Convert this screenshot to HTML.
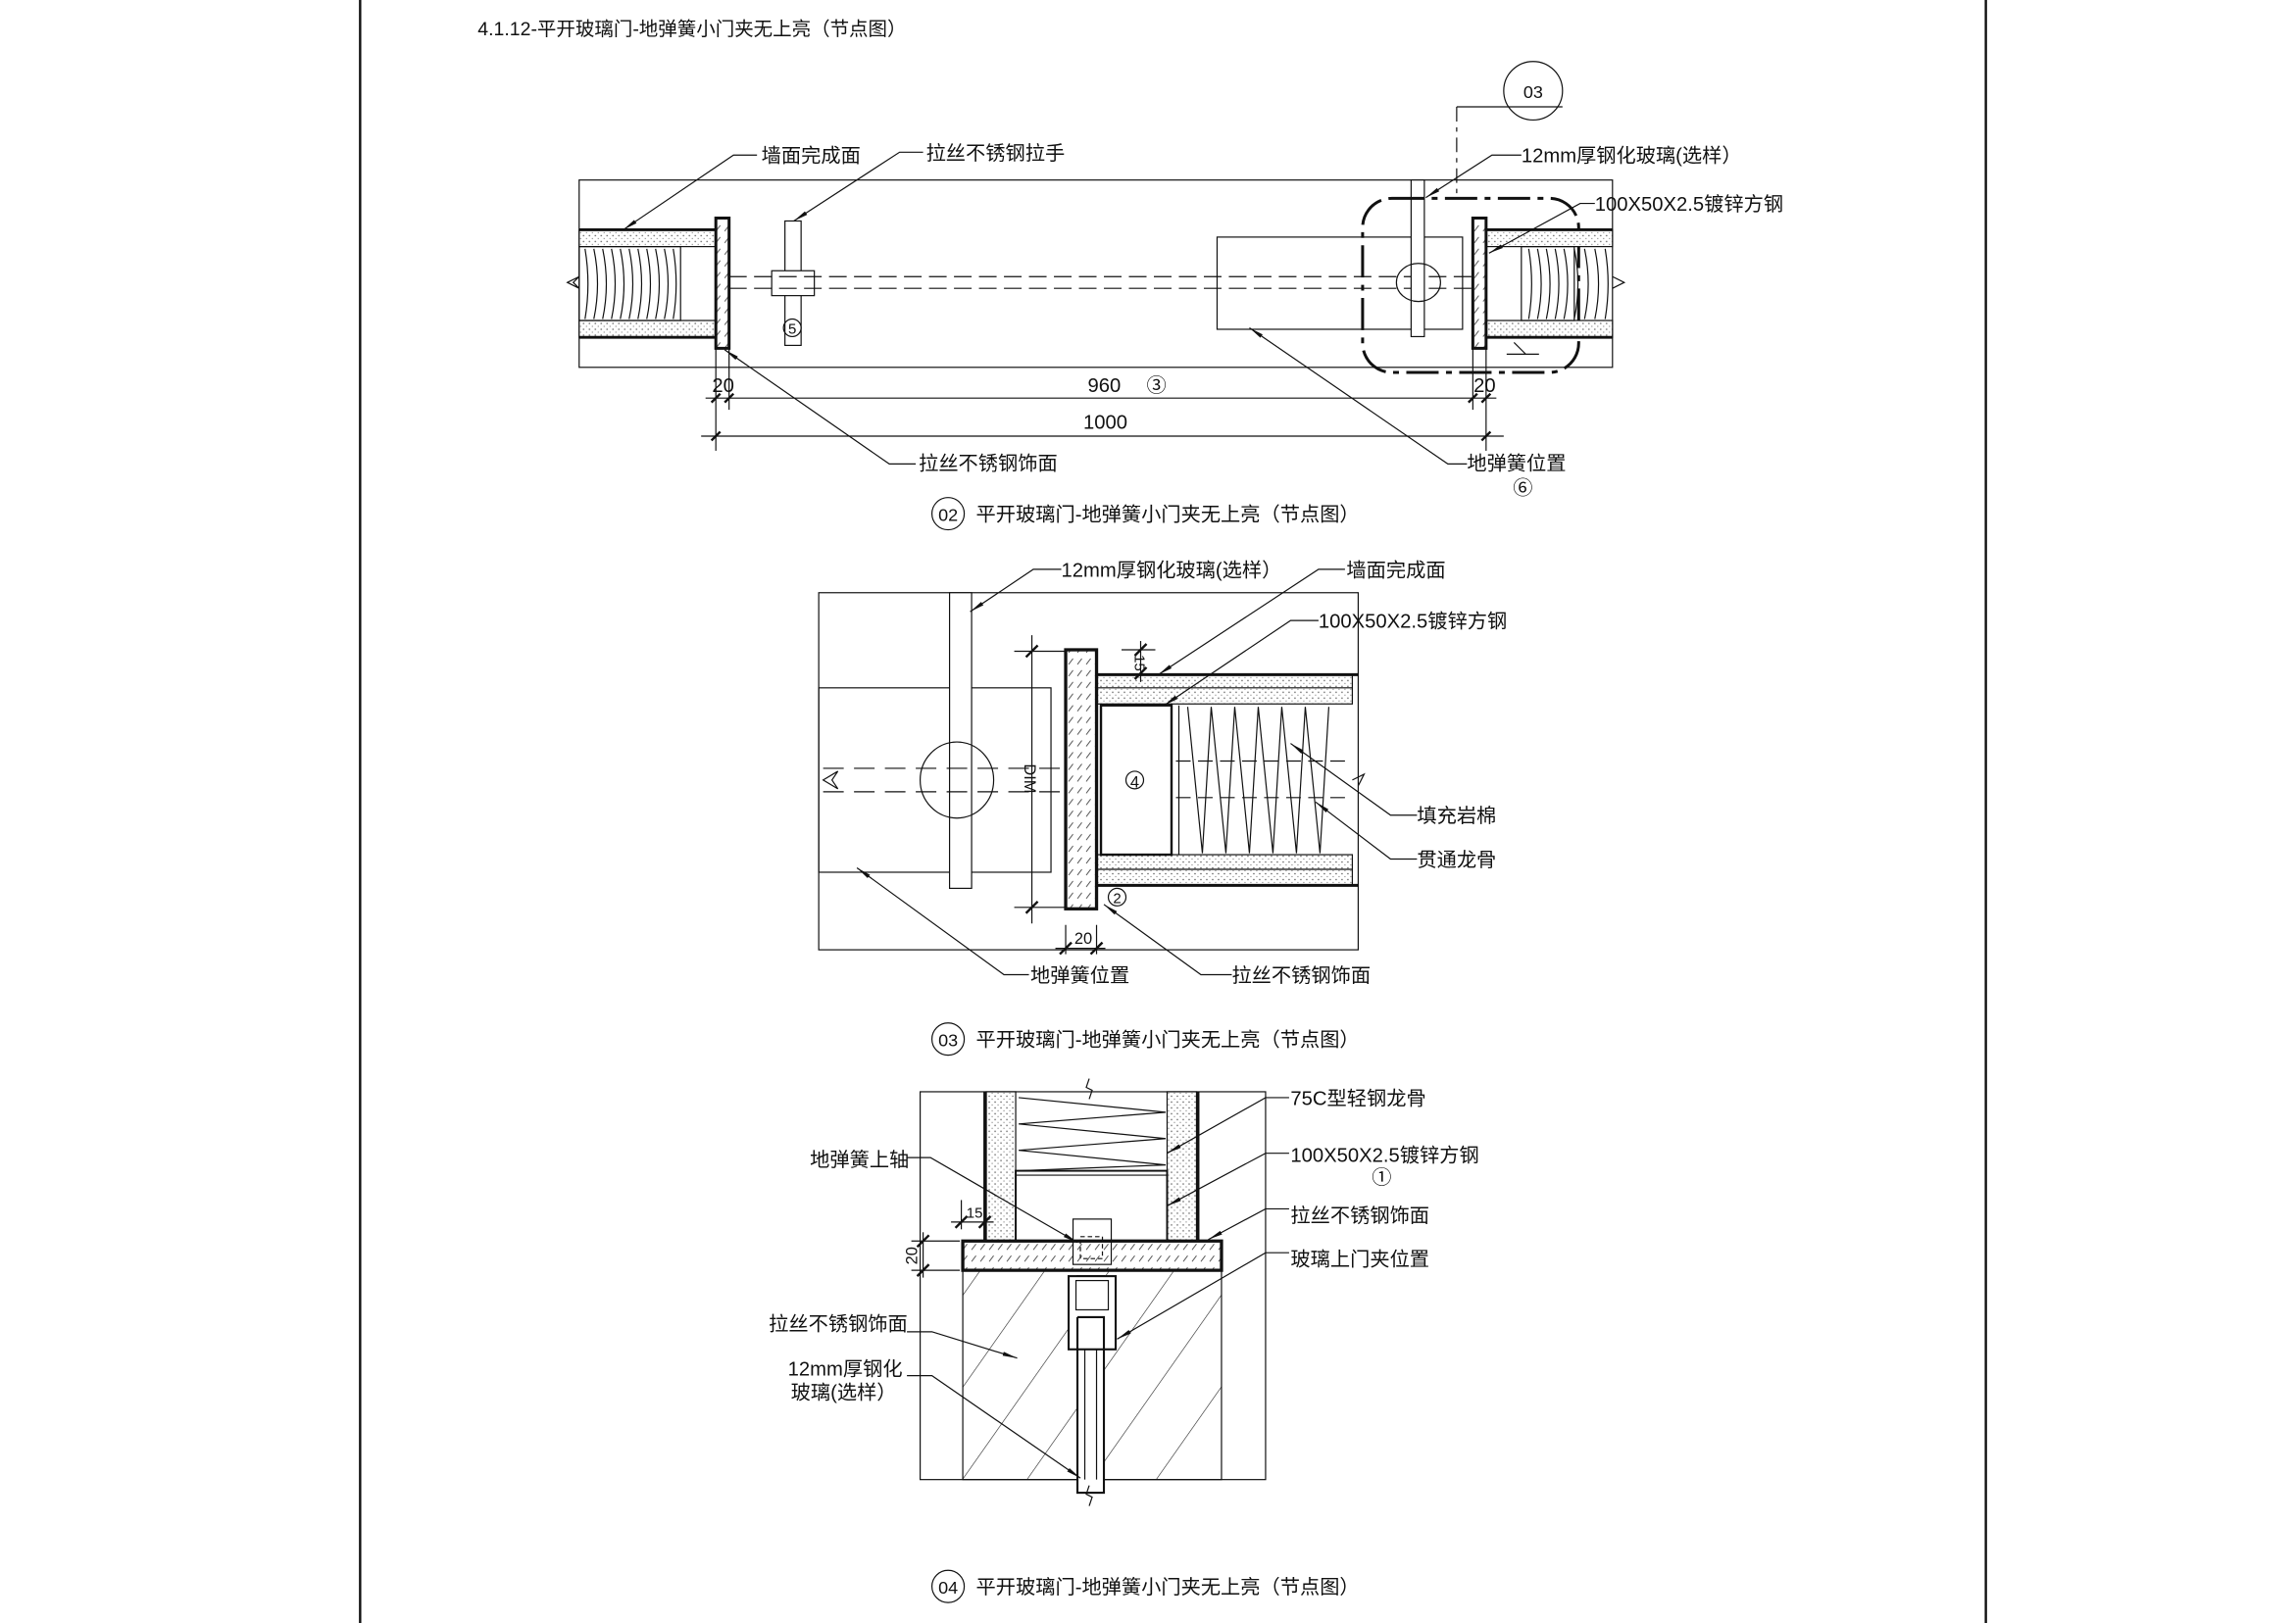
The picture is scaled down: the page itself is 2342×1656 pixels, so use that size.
<!DOCTYPE html>
<html><head><meta charset="utf-8"><style>
html,body{margin:0;padding:0;background:#fff;}
svg{display:block;}
text{font-family:"Liberation Sans","Noto Sans CJK SC",sans-serif;fill:#111;}
</style></head><body>
<svg width="2342" height="1656" viewBox="0 0 1562 1109" preserveAspectRatio="none" xmlns="http://www.w3.org/2000/svg">
<defs>
<pattern id="dots" width="4" height="4" patternUnits="userSpaceOnUse"><rect width="4" height="4" fill="#fff"/><circle cx="1" cy="1" r="0.5" fill="#555"/><circle cx="3" cy="3" r="0.4" fill="#777"/></pattern>
<pattern id="hatch" width="36" height="40" patternUnits="userSpaceOnUse" patternTransform="rotate(35)"><line x1="0" y1="0" x2="0" y2="40" stroke="#222" stroke-width="0.8"/></pattern>
<pattern id="plate" width="6" height="8" patternUnits="userSpaceOnUse"><rect width="6" height="8" fill="#fff"/><line x1="1" y1="6" x2="4" y2="2" stroke="#444" stroke-width="0.6"/></pattern>
<marker id="ar" markerWidth="10" markerHeight="4" refX="10" refY="2" orient="auto" markerUnits="userSpaceOnUse"><path d="M0,0.6 L10,2 L0,3.4z" fill="#111"/></marker>
</defs>
<g stroke="#111" fill="none" stroke-width="1">
<line x1="245" y1="0" x2="245" y2="1109" stroke-width="1.6"/>
<line x1="1351" y1="0" x2="1351" y2="1109" stroke-width="1.6"/>
</g>
<text x="325" y="24" font-size="13">4.1.12-平开玻璃门-地弹簧小门夹无上亮（节点图）</text>

<!-- ============ Diagram 02 ============ -->
<g stroke="#111" fill="none" stroke-width="0.8">
<rect x="394" y="123" width="703" height="128"/>
<rect x="394" y="157" width="93" height="11.5" fill="url(#dots)"/>
<rect x="394" y="219" width="93" height="11.5" fill="url(#dots)"/>
<line x1="394" y1="157" x2="487" y2="157" stroke-width="2"/>
<line x1="394" y1="230.5" x2="487" y2="230.5" stroke-width="2"/>
<rect x="394" y="168.5" width="69" height="50.5"/>
<path d="M398,170 q4,24 0,48 M404,170 q5,24 0,48 M410,170 q5,24 0,48 M416,170 q5,24 0,48 M422,170 q5,24 0,48 M428,170 q5,24 0,48 M434,170 q5,24 0,48 M440,170 q5,24 0,48 M446,170 q5,24 0,48 M452,170 q5,24 0,48 M458,170 q4,24 0,48"/>
<path d="M386,193 l8,-4 -4,4 4,4z"/>
<rect x="487" y="149" width="9" height="89" fill="url(#plate)" stroke-width="2"/>
<rect x="534" y="151" width="11" height="85" fill="#fff"/>
<rect x="525" y="185" width="29" height="17" fill="#fff"/>
<circle cx="539" cy="224" r="6"/><text x="539" y="228" font-size="10" text-anchor="middle" stroke="none">5</text>
<line x1="496" y1="189" x2="1002" y2="189" stroke-dasharray="12,5"/>
<line x1="496" y1="197" x2="1002" y2="197" stroke-dasharray="12,5"/>
<rect x="828" y="162" width="167" height="63" fill="none"/>
<rect x="960" y="123" width="9" height="107" fill="#fff"/>
<ellipse cx="965" cy="193" rx="15" ry="13"/>
<rect x="927" y="135.5" width="147" height="119" rx="20" stroke-width="2" stroke-dasharray="22,5,4,5"/>
<rect x="1011" y="157" width="86" height="11.5" fill="url(#dots)"/>
<rect x="1011" y="219" width="86" height="11.5" fill="url(#dots)"/>
<line x1="1011" y1="157" x2="1097" y2="157" stroke-width="2"/>
<line x1="1011" y1="230.5" x2="1097" y2="230.5" stroke-width="2"/>
<rect x="1035" y="168.5" width="36" height="50.5"/>
<path d="M1040,170 q4,24 0,48 M1046,170 q5,24 0,48 M1052,170 q5,24 0,48 M1058,170 q5,24 0,48 M1064,170 q5,24 0,48 M1071,170 q5,24 0,48 M1078,170 q5,24 0,48 M1085,170 q5,24 0,48 M1092,170 q4,24 0,48"/>
<path d="M1097,189 l8,4 -8,4"/>
<rect x="1002" y="149" width="9" height="89" fill="url(#plate)" stroke-width="2"/>
<path d="M1030,234 l8,8 M1025,242 l22,0"/>
<circle cx="1043" cy="62" r="20"/>
<line x1="991" y1="73" x2="1063" y2="73"/>
<line x1="991" y1="73" x2="991" y2="135" stroke-dasharray="10,4,3,4"/>
<line x1="487" y1="238" x2="487" y2="308"/><line x1="496" y1="238" x2="496" y2="280"/>
<line x1="1002" y1="238" x2="1002" y2="280"/><line x1="1011" y1="238" x2="1011" y2="308"/>
<line x1="480" y1="272" x2="1018" y2="272"/>
<line x1="477" y1="298" x2="1023" y2="298"/>
<path d="M484,275 l6,-6 M493,275 l6,-6 M999,275 l6,-6 M1008,275 l6,-6 M484,301 l6,-6 M1008,301 l6,-6" stroke-width="1.6"/>
<polyline points="515,106 499,106 424,157" marker-end="url(#ar)"/>
<polyline points="628,104 612,104 540,151" marker-end="url(#ar)"/>
<polyline points="1035,106 1015,106 970,135" marker-end="url(#ar)"/>
<polyline points="1085,139 1075,139 1013,173" marker-end="url(#ar)"/>
<polyline points="623,317 605,317 493,239" marker-end="url(#ar)"/>
<polyline points="998,317 985,317 850,224" marker-end="url(#ar)"/>
<circle cx="645" cy="351" r="11"/>
</g>
<g font-size="13.5">
<text x="1043" y="67" font-size="12" text-anchor="middle">03</text>
<text x="518" y="111">墙面完成面</text>
<text x="630" y="109">拉丝不锈钢拉手</text>
<text x="1035" y="111">12mm厚钢化玻璃(选样）</text>
<text x="1085" y="144">100X50X2.5镀锌方钢</text>
<text x="625" y="321">拉丝不锈钢饰面</text>
<text x="998" y="321">地弹簧位置</text>
<text x="1036" y="338" text-anchor="middle">⑥</text>
<text x="492" y="268" text-anchor="middle">20</text>
<text x="1010" y="268" text-anchor="middle">20</text>
<text x="740" y="268">960</text><text x="780" y="268">③</text>
<text x="752" y="293" text-anchor="middle">1000</text>
<text x="645" y="356" font-size="12" text-anchor="middle">02</text>
<text x="664" y="356">平开玻璃门-地弹簧小门夹无上亮（节点图）</text>
</g>

<!-- ============ Diagram 03 ============ -->
<g stroke="#111" fill="none" stroke-width="0.8">
<rect x="557" y="405" width="367" height="244"/>
<rect x="557" y="470" width="158" height="126"/>
<rect x="646" y="405" width="15" height="202" fill="#fff"/>
<ellipse cx="651" cy="533" rx="25" ry="26"/>
<line x1="560" y1="525" x2="740" y2="525" stroke-dasharray="14,7"/>
<line x1="560" y1="541" x2="740" y2="541" stroke-dasharray="14,7"/>
<path d="M560,533 l10,-6 -4,6 4,6z"/>
<rect x="746" y="461" width="174" height="20" fill="url(#dots)"/>
<rect x="746" y="584" width="174" height="21" fill="url(#dots)"/>
<line x1="746" y1="461" x2="924" y2="461" stroke-width="2"/>
<line x1="746" y1="605" x2="924" y2="605" stroke-width="2"/>
<line x1="746" y1="470" x2="920" y2="470"/>
<line x1="746" y1="594" x2="920" y2="594"/>
<rect x="749" y="482" width="48" height="102" stroke-width="1.6"/>
<line x1="802" y1="482" x2="802" y2="584"/>
<path d="M808,483 l10,100 l6,-100 l10,100 l6,-100 l10,100 l6,-100 l10,100 l6,-100 l10,100 l6,-100 l10,100 l6,-100"/>
<line x1="800" y1="520" x2="920" y2="520" stroke-dasharray="10,5"/>
<line x1="800" y1="545" x2="920" y2="545" stroke-dasharray="10,5"/>
<path d="M920,533 l8,-4 -4,8"/>
<rect x="725" y="444" width="21" height="177" fill="url(#plate)" stroke-width="2.2"/>
<circle cx="772" cy="533" r="6"/>
<circle cx="760" cy="613" r="6"/>
<line x1="702" y1="434" x2="702" y2="631"/>
<line x1="690" y1="445" x2="724" y2="445"/>
<line x1="690" y1="620" x2="724" y2="620"/>
<path d="M698,449 l8,-8 M698,624 l8,-8" stroke-width="1.6"/>
<line x1="776" y1="438" x2="776" y2="466"/>
<line x1="763" y1="444" x2="786" y2="444"/>
<path d="M772,448 l8,-8 M772,464 l8,-8" stroke-width="1.6"/>
<line x1="725" y1="632" x2="725" y2="652"/><line x1="746" y1="632" x2="746" y2="652"/>
<line x1="718" y1="648" x2="752" y2="648"/>
<path d="M721,652 l8,-8 M742,652 l8,-8" stroke-width="1.6"/>
<polyline points="722,389 703,389 660,418" marker-end="url(#ar)"/>
<polyline points="915,389 897,389 788,461" marker-end="url(#ar)"/>
<polyline points="897,424 878,424 792,482" marker-end="url(#ar)"/>
<polyline points="964,557 946,557 878,508" marker-end="url(#ar)"/>
<polyline points="964,587 946,587 895,548" marker-end="url(#ar)"/>
<polyline points="700,666 683,666 583,593" marker-end="url(#ar)"/>
<polyline points="838,666 817,666 751,618" marker-end="url(#ar)"/>
<circle cx="645" cy="710" r="11"/>
</g>
<g font-size="13.5">
<text x="722" y="394">12mm厚钢化玻璃(选样）</text>
<text x="916" y="394">墙面完成面</text>
<text x="897" y="429">100X50X2.5镀锌方钢</text>
<text x="964" y="562">填充岩棉</text>
<text x="964" y="592">贯通龙骨</text>
<text x="701" y="671">地弹簧位置</text>
<text x="838" y="671">拉丝不锈钢饰面</text>
<text x="772" y="538" font-size="11" text-anchor="middle">4</text>
<text x="760" y="617" font-size="10" text-anchor="middle">2</text>
<text transform="translate(697,532) rotate(90)" font-size="11" text-anchor="middle">DIM</text>
<text transform="translate(772,453) rotate(90)" font-size="10" text-anchor="middle">15</text>
<text x="737" y="645" font-size="11" text-anchor="middle">20</text>
<text x="645" y="715" font-size="12" text-anchor="middle">03</text>
<text x="664" y="715">平开玻璃门-地弹簧小门夹无上亮（节点图）</text>
</g>

<!-- ============ Diagram 04 ============ -->
<g stroke="#111" fill="none" stroke-width="0.8">
<rect x="626" y="746" width="235" height="265"/>
<rect x="655" y="868" width="176" height="143" fill="url(#hatch)"/>
<rect x="671" y="746" width="20" height="102" fill="url(#dots)"/>
<rect x="794" y="746" width="20" height="102" fill="url(#dots)"/>
<line x1="670" y1="746" x2="670" y2="860" stroke-width="2"/>
<line x1="815" y1="746" x2="815" y2="860" stroke-width="2"/>
<path d="M693,750 l100,10 l-100,8 l100,10 l-100,8 l100,10 l-100,4"/>
<rect x="691" y="800" width="103" height="48" stroke-width="1.3"/>
<line x1="691" y1="803" x2="794" y2="803"/>
<rect x="655" y="848" width="176" height="20" fill="url(#plate)" stroke-width="2.2"/>
<rect x="730" y="833" width="26" height="31" fill="none"/>
<rect x="735" y="845" width="15" height="15" stroke-dasharray="3,2"/>
<rect x="733" y="872" width="18" height="148" fill="#fff" stroke-width="1.4"/>
<line x1="738" y1="880" x2="738" y2="1011"/><line x1="746" y1="880" x2="746" y2="1011"/>
<rect x="727" y="872" width="32" height="50" fill="#fff" stroke-width="1.4"/>
<rect x="732" y="875" width="22" height="20"/>
<path d="M733,900 h18 v22 M733,900 v22" stroke-width="1.4"/>
<path d="M741,737 l-2,6 4,2 -2,6 M741,1015 l-2,6 4,2 -2,6"/>
<line x1="628" y1="842" x2="628" y2="873"/>
<line x1="620" y1="848" x2="653" y2="848"/><line x1="620" y1="868" x2="653" y2="868"/>
<path d="M624,852 l8,-8 M624,872 l8,-8" stroke-width="1.6"/>
<line x1="647" y1="835" x2="676" y2="835"/>
<line x1="654" y1="820" x2="654" y2="840"/>
<path d="M650,839 l8,-8 M666,839 l8,-8" stroke-width="1.6"/>
<polyline points="877,750 861,750 794,788" marker-end="url(#ar)"/>
<polyline points="877,788 861,788 794,824" marker-end="url(#ar)"/>
<polyline points="877,826 861,826 822,847" marker-end="url(#ar)"/>
<polyline points="877,856 861,856 760,915" marker-end="url(#ar)"/>
<polyline points="617,791 633,791 733,849" marker-end="url(#ar)"/>
<polyline points="617,910 634,910 692,928" marker-end="url(#ar)"/>
<polyline points="617,940 634,940 735,1010" marker-end="url(#ar)"/>
<circle cx="645" cy="1084" r="11"/>
</g>
<g font-size="13.5">
<text x="878" y="755">75C型轻钢龙骨</text>
<text x="878" y="794">100X50X2.5镀锌方钢</text>
<text x="940" y="809" text-anchor="middle">①</text>
<text x="878" y="835">拉丝不锈钢饰面</text>
<text x="878" y="865">玻璃上门夹位置</text>
<text x="551" y="797">地弹簧上轴</text>
<text x="523" y="909">拉丝不锈钢饰面</text>
<text x="536" y="940">12mm厚钢化</text>
<text x="538" y="956">玻璃(选样）</text>
<text x="663" y="832" font-size="10" text-anchor="middle">15</text>
<text transform="translate(624,858) rotate(-90)" font-size="11" text-anchor="middle">20</text>
<text x="645" y="1089" font-size="12" text-anchor="middle">04</text>
<text x="664" y="1089">平开玻璃门-地弹簧小门夹无上亮（节点图）</text>
</g>
</svg>
</body></html>
